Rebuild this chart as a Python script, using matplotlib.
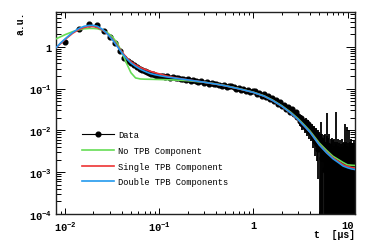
import numpy as np
import matplotlib
matplotlib.use("Agg")
import matplotlib.pyplot as plt
from matplotlib.lines import Line2D
from matplotlib.ticker import FixedLocator, FixedFormatter, LogLocator, NullFormatter

plt.rcParams['font.family'] = ['Liberation Mono', 'DejaVu Sans']
plt.rcParams['font.weight'] = 'bold'
plt.rcParams['mathtext.fontset'] = 'custom'
plt.rcParams['mathtext.rm'] = 'Liberation Mono:bold'
plt.rcParams['mathtext.it'] = 'Liberation Mono:bold'
plt.rcParams['mathtext.bf'] = 'Liberation Mono:bold'
plt.rcParams['mathtext.default'] = 'rm'

# ---------------- data ----------------
# early region (4 ns bins)
t_early = [0.010, 0.014, 0.018, 0.022, 0.026, 0.030, 0.034, 0.038, 0.042, 0.046,
           0.050, 0.054, 0.058, 0.062, 0.066, 0.070, 0.074, 0.078, 0.082, 0.086,
           0.090, 0.094, 0.098]
y_early = [1.30, 2.70, 3.50, 3.30, 2.40, 1.76, 1.22, 0.78, 0.55, 0.45,
           0.40, 0.36, 0.33, 0.30, 0.28, 0.265, 0.25, 0.235, 0.225, 0.22,
           0.21, 0.205, 0.20]

# middle region
t_mid = [0.105, 0.110, 0.115, 0.120, 0.130, 0.140, 0.150, 0.160, 0.170, 0.180,
         0.190, 0.200, 0.215, 0.230, 0.245, 0.260, 0.280, 0.300, 0.320, 0.340,
         0.360, 0.380, 0.400, 0.430, 0.460, 0.490, 0.520, 0.550, 0.580, 0.620,
         0.660, 0.700, 0.740, 0.780, 0.830, 0.880, 0.930, 0.980, 1.04, 1.10,
         1.16, 1.22, 1.29, 1.36, 1.43, 1.50, 1.58, 1.66, 1.74, 1.83,
         1.92, 2.01, 2.11, 2.21, 2.32, 2.43, 2.55, 2.67, 2.80, 2.93]
y_mid = [0.196, 0.200, 0.188, 0.195, 0.183, 0.190, 0.176, 0.180, 0.168, 0.172,
         0.160, 0.166, 0.155, 0.160, 0.150, 0.146, 0.150, 0.138, 0.140, 0.130,
         0.136, 0.127, 0.132, 0.122, 0.118, 0.125, 0.112, 0.116, 0.118, 0.110,
         0.100, 0.104, 0.094, 0.097, 0.088, 0.091, 0.083, 0.086, 0.088, 0.075,
         0.080, 0.068, 0.074, 0.062, 0.066, 0.056, 0.061, 0.050, 0.052, 0.043,
         0.048, 0.038, 0.041, 0.033, 0.037, 0.028, 0.032, 0.025, 0.027, 0.021]
e_mid = [0.012, 0.012, 0.011, 0.012, 0.011, 0.011, 0.011, 0.011, 0.010, 0.010,
         0.010, 0.010, 0.009, 0.010, 0.009, 0.009, 0.009, 0.008, 0.008, 0.008,
         0.008, 0.008, 0.008, 0.007, 0.007, 0.008, 0.007, 0.007, 0.007, 0.007,
         0.006, 0.006, 0.006, 0.006, 0.006, 0.006, 0.006, 0.006, 0.006, 0.005,
         0.006, 0.005, 0.005, 0.005, 0.005, 0.005, 0.005, 0.004, 0.004, 0.004,
         0.004, 0.004, 0.004, 0.004, 0.004, 0.0035, 0.0035, 0.0035, 0.0035, 0.0035]

# tail region (with error bars)
t_tail = [3.0, 3.1, 3.2, 3.3, 3.4, 3.5, 3.6, 3.7, 3.8, 3.9,
          4.0, 4.1, 4.2, 4.3, 4.4, 4.5, 4.6, 4.7, 4.8, 4.9,
          5.0, 5.1, 5.2, 5.3, 5.4, 5.5, 5.6, 5.7, 5.8, 5.9,
          6.0, 6.1, 6.2, 6.3, 6.4, 6.5, 6.6, 6.7, 6.8, 6.9,
          7.0, 7.1, 7.2, 7.3, 7.4, 7.5, 7.6, 7.7, 7.8, 7.9,
          8.0, 8.1, 8.2, 8.3, 8.4, 8.5, 8.6, 8.7, 8.8, 8.9,
          9.0, 9.1, 9.2, 9.3, 9.4, 9.5, 9.6, 9.7, 9.8, 9.9,
          10.0, 10.1, 10.2, 10.3, 10.4, 10.5, 10.6, 10.7, 10.8, 10.9,
          11.0, 11.1, 11.2, 11.3, 11.4, 11.5, 11.6, 11.7, 11.8, 11.9, 12.0]
y_tail = [0.022, 0.017, 0.020, 0.014, 0.017, 0.012, 0.016, 0.011, 0.014, 0.0095,
          0.012, 0.0085, 0.011, 0.0068, 0.0095, 0.0055, 0.0082, 0.0048, 0.0072, 0.0035,
          0.0062, 0.0040, 0.0058, 0.0022, 0.0050, 0.0030, 0.0045, 0.0011, 0.0040, 0.0020,
          0.0036, 0.0045, 0.0032, 0.0018, 0.0042, 0.00012, 0.0028, 0.0015, 0.0033, 0.0006,
          0.0026, 0.0012, 0.0030, 0.0004, 0.0022, 0.0017, 0.0036, 0.0008, 0.0021, 0.0013,
          0.0028, 0.0003, 0.0019, 0.0011, 0.0025, 0.0007, 0.0016, 0.0030, 0.0010, 0.0018,
          0.0002, 0.0022, 0.0012, 0.0026, 0.0006, 0.0015, 0.0009, 0.0021, 0.0013, 0.0029,
          0.0004, 0.0017, 0.0011, 0.0024, 0.0008, 0.0014, 0.0020, 0.0005, 0.0016, 0.0010,
          0.0027, 0.0012, 0.0002, 0.0019, 0.0009, 0.0015, 0.0023, 0.0007, 0.0013, 0.0018, 0.0010]
e_tail = [0.004, 0.004, 0.004, 0.0035, 0.0035, 0.0035, 0.0035, 0.0035, 0.0035, 0.0032,
          0.0032, 0.0030, 0.0032, 0.0030, 0.0030, 0.0030, 0.0030, 0.0029, 0.0030, 0.0028,
          0.0029, 0.0040, 0.010, 0.0030, 0.0032, 0.0032, 0.0034, 0.0030, 0.0040, 0.0032,
          0.0036, 0.022, 0.0034, 0.0032, 0.0042, 0.0030, 0.0034, 0.0032, 0.0034, 0.0030,
          0.0032, 0.0030, 0.0034, 0.0030, 0.0032, 0.0030, 0.024, 0.0030, 0.0032, 0.0030,
          0.0034, 0.0030, 0.0032, 0.0030, 0.0034, 0.0030, 0.0032, 0.0034, 0.0030, 0.0032,
          0.0030, 0.0032, 0.0030, 0.012, 0.0030, 0.0032, 0.0030, 0.0032, 0.0030, 0.009,
          0.0030, 0.0032, 0.0030, 0.008, 0.0030, 0.0032, 0.0032, 0.0030, 0.0032, 0.0030,
          0.0034, 0.0030, 0.0030, 0.0032, 0.0030, 0.0032, 0.0034, 0.0030, 0.0032, 0.0032, 0.0030]

# fit curves
t_fit = [0.008, 0.009, 0.010, 0.012, 0.014, 0.016, 0.018, 0.020, 0.022, 0.025,
         0.028, 0.032, 0.036, 0.040, 0.045, 0.050, 0.056, 0.063, 0.070, 0.080,
         0.090, 0.10, 0.12, 0.15, 0.20, 0.30, 0.40, 0.50, 0.70, 1.0,
         1.3, 1.6, 2.0, 2.5, 3.0, 3.5, 4.0, 5.0, 6.0, 7.0,
         8.0, 9.0, 10.0, 11.0, 12.0]
y_double = [0.95, 1.25, 1.55, 2.2, 2.75, 3.1, 3.25, 3.25, 3.1, 2.6,
            2.05, 1.45, 1.0, 0.72, 0.52, 0.41, 0.34, 0.29, 0.26, 0.23,
            0.215, 0.205, 0.19, 0.177, 0.162, 0.142, 0.128, 0.117, 0.099, 0.081,
            0.066, 0.052, 0.038, 0.026, 0.018, 0.0125, 0.0090, 0.0045, 0.0029, 0.0021,
            0.0017, 0.0014, 0.00128, 0.0012, 0.00116]
y_single = [0.95, 1.2, 1.5, 2.1, 2.6, 2.9, 3.05, 3.05, 2.9, 2.5,
            2.05, 1.5, 1.05, 0.76, 0.55, 0.44, 0.37, 0.32, 0.29, 0.26,
            0.24, 0.225, 0.20, 0.18, 0.162, 0.142, 0.128, 0.117, 0.099, 0.081,
            0.066, 0.052, 0.038, 0.026, 0.018, 0.0125, 0.0091, 0.0046, 0.0030, 0.0022,
            0.0018, 0.0015, 0.00138, 0.0013, 0.00126]
y_none = [1.55, 1.75, 1.95, 2.3, 2.55, 2.7, 2.75, 2.75, 2.7, 2.5,
          2.2, 1.7, 1.2, 0.75, 0.40, 0.24, 0.18, 0.17, 0.168, 0.167,
          0.166, 0.165, 0.163, 0.16, 0.155, 0.142, 0.129, 0.118, 0.100, 0.082,
          0.067, 0.053, 0.039, 0.027, 0.0188, 0.0132, 0.0096, 0.0050, 0.0033, 0.0024,
          0.0020, 0.0017, 0.0015, 0.00147, 0.00145]

labels = ["Data", "No TPB Component", "Single TPB Component", "Double TPB Components"]
c_green = "#66dd55"
c_red = "#ee3333"
c_blue = "#2299ee"

# ---------------- figure ----------------
fig = plt.figure(figsize=(3.74, 2.53), dpi=100)
ax = fig.add_axes([56/374, 1-215/253, (355-56)/374, (215-13)/253])
ax.set_xscale('log')
ax.set_yscale('log')
ax.set_xlim(0.008, 12.0)
ax.set_ylim(1e-4, 6.8)

ms = 3.4
y_tail_a = np.array(y_tail)
e_tail_a = np.array(e_tail)
lower = np.minimum(e_tail_a, y_tail_a * 0.9999)
ax.errorbar(t_tail, y_tail, yerr=[lower, e_tail_a], fmt='o', color='black',
            ms=ms, elinewidth=1.3, capsize=0, zorder=2)
ax.errorbar(t_mid, y_mid, yerr=e_mid, fmt='o', color='black', ms=ms,
            elinewidth=1.2, capsize=0, zorder=2)
ax.plot(t_early, y_early, 'o', color='black', ms=ms, zorder=2)

lw = 1.2
ax.plot(t_fit, y_none, color=c_green, lw=lw, zorder=3)
ax.plot(t_fit, y_single, color=c_red, lw=lw, zorder=4)
ax.plot(t_fit, y_double, color=c_blue, lw=lw, zorder=5)

# ticks
ax.xaxis.set_major_locator(FixedLocator([0.01, 0.1, 1, 10]))
ax.xaxis.set_major_formatter(FixedFormatter([r'$10^{-2}$', r'$10^{-1}$', '1', '10']))
ax.xaxis.set_minor_locator(LogLocator(base=10, subs=np.arange(2, 10), numticks=20))
ax.xaxis.set_minor_formatter(NullFormatter())
ax.yaxis.set_major_locator(FixedLocator([1e-4, 1e-3, 1e-2, 1e-1, 1]))
ax.yaxis.set_major_formatter(FixedFormatter([r'$10^{-4}$', r'$10^{-3}$', r'$10^{-2}$', r'$10^{-1}$', '1']))
ax.yaxis.set_minor_locator(LogLocator(base=10, subs=np.arange(2, 10), numticks=20))
ax.yaxis.set_minor_formatter(NullFormatter())

ax.tick_params(axis='both', which='both', direction='in', top=True, right=True,
               width=0.7, labelsize=7.5, color='black')
ax.tick_params(axis='y', which='major', length=6.5, pad=3)
ax.tick_params(axis='y', which='minor', length=3.6)
ax.tick_params(axis='x', which='major', length=4.3, pad=4)
ax.tick_params(axis='x', which='minor', length=2.2)
for sp in ax.spines.values():
    sp.set_linewidth(1.0)
    sp.set_color('#222222')

fig.text(355/374, 1-235/253, 't  [\u00b5s]', ha='right', va='center', fontsize=7,
         fontweight='bold')
fig.text(20/374, 1-12/253, 'a.u.', ha='center', va='top', rotation=90,
         fontsize=7, fontweight='bold')

handles = [
    Line2D([], [], color='black', lw=0.8, marker='o', ms=ms),
    Line2D([], [], color=c_green, lw=lw),
    Line2D([], [], color=c_red, lw=lw),
    Line2D([], [], color=c_blue, lw=lw),
]
leg = ax.legend(handles, labels, loc='upper left',
                bbox_to_anchor=(82/374, 1-131/253), bbox_transform=fig.transFigure,
                frameon=False, prop={'size': 6.3, 'weight': 'normal'},
                handlelength=3.6, handletextpad=0.55,
                labelspacing=0.78, borderpad=0, borderaxespad=0)

fig.savefig('out.png', dpi=100)
